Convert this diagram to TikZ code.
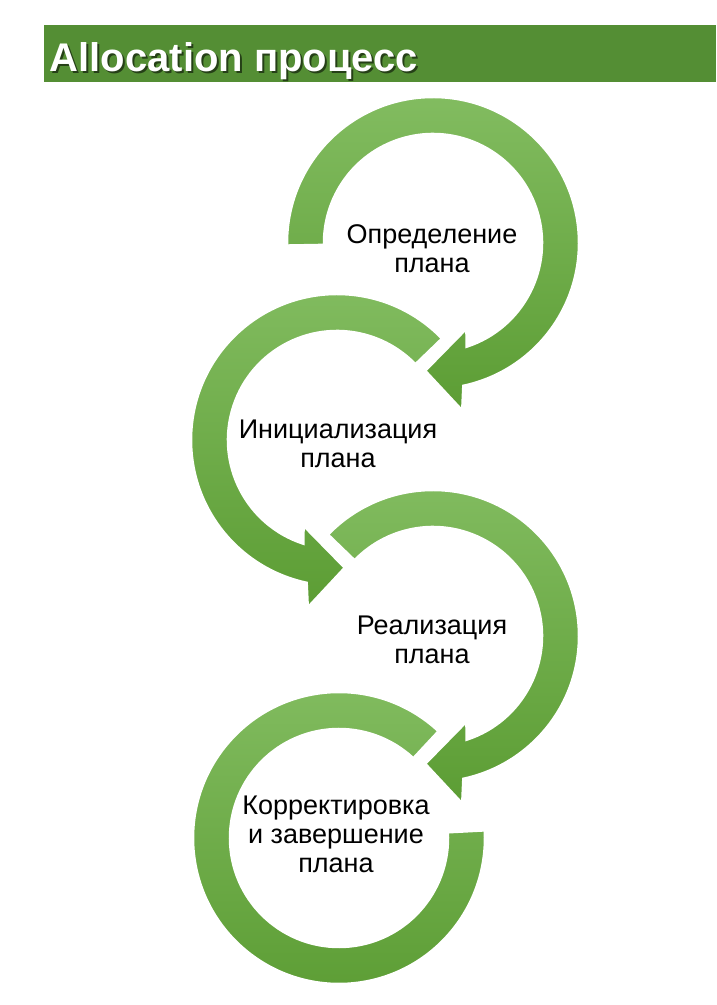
\documentclass[tikz,border=0pt]{standalone}
\usepackage{fontspec}
\setmainfont{Liberation Sans}
\definecolor{barGreen}{RGB}{84,142,52}
\definecolor{arcTop}{RGB}{130,188,96}
\definecolor{arcBot}{RGB}{92,157,52}
\tikzset{
  arcshape/.style={top color=arcTop, bottom color=arcBot, draw=white, line width=2.5pt, line join=miter},
  label/.style={align=center, font=\fontsize{27}{29}\selectfont, text=black, inner sep=0pt}
}
\begin{document}
\begin{tikzpicture}[x=1pt,y=1pt]
\useasboundingbox (0,0) rectangle (716,1005);
\fill[white] (0,0) rectangle (716,1005);
% title bar
\fill[barGreen] (44,923) rectangle (716,980);
\node[anchor=base west, inner sep=0pt, text=black, opacity=0.55, font=\fontsize{40}{42}\selectfont\bfseries] (titleshadow) at (51.5,931) {Allocation процесс};
\node[anchor=base west, inner sep=0pt, text=white, font=\fontsize{40}{42}\selectfont\bfseries] (title) at (49.5,933) {Allocation процесс};
% arc 4 (no head)
\begin{scope}[shift={(339,167)}]
\path[arcshape] (47:146) arc[start angle=47, end angle=363, radius=146] -- (363:109) arc[start angle=363, end angle=47, radius=109] -- cycle;
\end{scope}
% arc 3 (clockwise)
\begin{scope}[shift={(433,369)}]
\path[arcshape] (136:146) arc[start angle=136, end angle=-78, radius=146] -- (-80.1:170) -- (-93.5:128) -- (-68.7:92) -- (-72:109) arc[start angle=-72, end angle=136, radius=109] -- cycle;
\end{scope}
% arc 2 (counterclockwise)
\begin{scope}[shift={(337,565)}]
\path[arcshape] (44:146) arc[start angle=44, end angle=258, radius=146] -- (260.1:170) -- (273.5:128) -- (248.7:92) -- (252:109) arc[start angle=252, end angle=44, radius=109] -- cycle;
\end{scope}
% arc 1 (clockwise)
\begin{scope}[shift={(433,762)}]
\path[arcshape] (181:146) arc[start angle=181, end angle=-78, radius=146] -- (-80.1:170) -- (-93.5:128) -- (-68.7:92) -- (-72:109) arc[start angle=-72, end angle=181, radius=109] -- cycle;
\end{scope}
% labels
\node[label] (t1) at (432,756) {Определение\\плана};
\node[label] (t2) at (338,561) {Инициализация\\плана};
\node[label] (t3) at (432,365) {Реализация\\плана};
\node[label] (t4) at (336,171) {Корректировка\\и завершение\\плана};
\end{tikzpicture}
\end{document}
